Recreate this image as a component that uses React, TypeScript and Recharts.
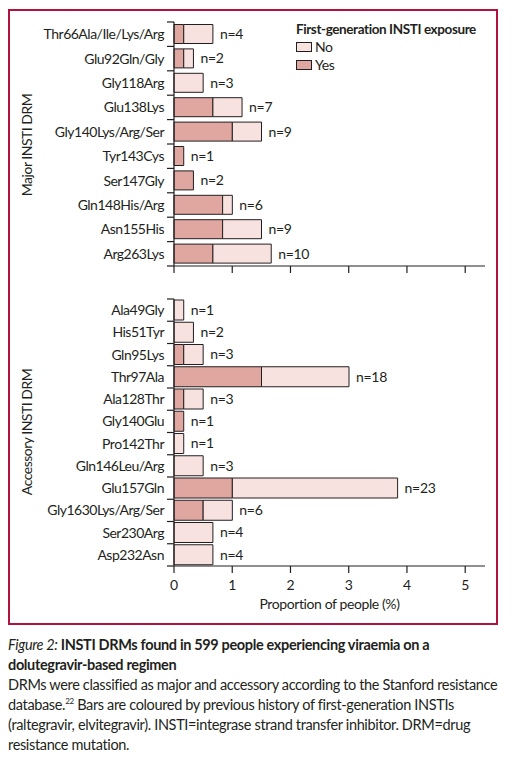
import {BarChart, Bar, XAxis, YAxis, Legend, LabelList, Label} from 'recharts'

// counts of people with each DRM, out of 599
const TOTAL = 599

const majorNames = ['Thr66Ala/Ile/Lys/Arg', 'Glu92Gln/Gly', 'Gly118Arg', 'Glu138Lys', 'Gly140Lys/Arg/Ser', 'Tyr143Cys', 'Ser147Gly', 'Gln148His/Arg', 'Asn155His', 'Arg263Lys']
const majorYes = [1, 1, 0, 4, 6, 1, 2, 5, 5, 4]
const majorNo = [3, 1, 3, 3, 3, 0, 0, 1, 4, 6]

const accNames = ['Ala49Gly', 'His51Tyr', 'Gln95Lys', 'Thr97Ala', 'Ala128Thr', 'Gly140Glu', 'Pro142Thr', 'Gln146Leu/Arg', 'Glu157Gln', 'Gly1630Lys/Arg/Ser', 'Ser230Arg', 'Asp232Asn']
const accYes = [0, 0, 1, 9, 1, 1, 0, 0, 6, 3, 0, 0]
const accNo = [1, 2, 2, 9, 2, 0, 1, 3, 17, 3, 4, 4]

const xTicks = [0, 1, 2, 3, 4, 5]
const legendLabels = ['No', 'Yes']

const FONT = "Lato, 'Liberation Sans', sans-serif"
const INK = '#231f20'
const YES = '#e0a6a0'
const NO = '#f8e2e0'
const FRAME = '#b0143e'
const TIGHT = '-0.5px'

const AXIS_X = 166

const buildRows = (names: string[], yes: number[], no: number[]) =>
    names.map((name, i) => ({
        name: name,
        yes: yes[i] / TOTAL * 100,
        no: no[i] / TOTAL * 100,
        n: yes[i] + no[i],
    }))

const CatTick = (props: any) => {
    const {y, payload, index, band, count} = props
    return (
        <g>
            <line x1={AXIS_X - 7} x2={AXIS_X} y1={y - band / 2} y2={y - band / 2} stroke={INK} strokeWidth={1.2}/>
            {index === count - 1 &&
                <line x1={AXIS_X - 7} x2={AXIS_X} y1={y + band / 2} y2={y + band / 2} stroke={INK} strokeWidth={1.2}/>}
            <text x={AXIS_X - 10} y={y} dy="0.35em" textAnchor="end" fill={INK} fontSize={14} fontFamily={FONT}
                  style={{letterSpacing: TIGHT}}>
                {payload.value}
            </text>
        </g>
    )
}

// n= label at the end of the stacked bar; the Yes series carries it only when there is no "No" part
const makeNLabel = (rows: any[], onYes: boolean) => (props: any) => {
    const {x, y, width, height, value} = props
    const row = rows.find(r => r.name === value)
    if (!row) return null
    if (onYes && row.no !== 0) return null
    if (!onYes && row.no === 0) return null
    return (
        <text x={x + width + 7} y={y + height / 2} dy="0.35em" fill={INK} fontSize={14} fontFamily={FONT}
              style={{letterSpacing: '-0.3px'}}>
            {'n=' + row.n}
        </text>
    )
}

const LegendBox = () => {
    const fills = [NO, YES]
    return (
        <div style={{fontFamily: FONT, color: INK, fontSize: 14, lineHeight: '18px', letterSpacing: '-0.4px'}}>
            <div style={{fontWeight: 'bold', whiteSpace: 'nowrap', fontSize: 13.5}}>First-generation INSTI exposure</div>
            {legendLabels.map((l, i) => (
                <div key={l} style={{display: 'flex', alignItems: 'center'}}>
                    <span style={{display: 'inline-block', width: 14, height: 8, background: fills[i], border: '1px solid ' + INK, marginRight: 3}}/>
                    <span>{l}</span>
                </div>
            ))}
        </div>
    )
}

type PanelProps = {
    rows: any[]
    height: number
    marginTop: number
    band: number
    gap: number
    xAxisHeight: number
    bottom: boolean
}

const Panel = (props: PanelProps) => {
    const {rows, height, marginTop, band, gap, xAxisHeight, bottom} = props
    return (
        <BarChart width={490} height={height} data={rows} layout="vertical"
                  margin={{top: marginTop, right: 13, left: 0, bottom: 0}} barCategoryGap={gap}>
            <XAxis type="number" domain={[0, 5.34]} ticks={xTicks} height={xAxisHeight}
                   axisLine={{stroke: INK, strokeWidth: 1.2}} tickLine={{stroke: INK, strokeWidth: 1.2}}
                   tickSize={7} tickMargin={7}
                   tick={{fill: INK, fontSize: 14, fontFamily: FONT}}
                   tickFormatter={(v: number) => bottom ? String(v) : ''}>
                {bottom && <Label value="Proportion of people (%)" position="insideBottom" offset={9}
                                  style={{fill: INK, fontSize: 14, fontFamily: FONT, letterSpacing: '-0.4px'}}/>}
            </XAxis>
            <YAxis type="category" dataKey="name" width={AXIS_X} interval={0}
                   axisLine={{stroke: INK, strokeWidth: 1.2}} tickLine={false}
                   tick={(p: any) => <CatTick {...p} band={band} count={rows.length}/>}/>
            {!bottom && <Legend layout="vertical" align="center" verticalAlign="middle"
                                wrapperStyle={{top: 12, left: 288, width: 200}} content={() => <LegendBox/>}/>}
            <Bar dataKey="yes" stackId="a" fill={YES} stroke={INK} strokeWidth={1} isAnimationActive={false}>
                <LabelList dataKey="name" content={makeNLabel(rows, true)}/>
            </Bar>
            <Bar dataKey="no" stackId="a" fill={NO} stroke={INK} strokeWidth={1} isAnimationActive={false}>
                <LabelList dataKey="name" content={makeNLabel(rows, false)}/>
            </Bar>
        </BarChart>
    )
}

const sideTitle = (text: string, top: number) => (
    <div style={{position: 'absolute', left: 18, top: top, width: 0, height: 0}}>
        <div style={{position: 'absolute', transform: 'translate(-50%, -50%) rotate(-90deg)', whiteSpace: 'nowrap',
            fontFamily: FONT, fontSize: 14, color: INK, letterSpacing: TIGHT}}>
            {text}
        </div>
    </div>
)

const App = () => {
    const majorRows = buildRows(majorNames, majorYes, majorNo)
    const accRows = buildRows(accNames, accYes, accNo)
    return (
        <div style={{position: 'relative', width: 496, height: 750}}>
            <div style={{position: 'absolute', left: 0, top: 1, width: 490, height: 616, border: '2px solid ' + FRAME, boxSizing: 'border-box'}}/>
            <div style={{position: 'absolute', left: 0, top: 0}}>
                <Panel rows={majorRows} height={272} marginTop={14} band={24.4} gap={2.5} xAxisHeight={14} bottom={false}/>
            </div>
            <div style={{position: 'absolute', left: 0, top: 280}}>
                <Panel rows={accRows} height={330} marginTop={11} band={22.25} gap={1} xAxisHeight={52} bottom={true}/>
            </div>
            {sideTitle('Major INSTI DRM', 137)}
            {sideTitle('Accessory INSTI DRM', 424)}
            <div style={{position: 'absolute', left: 0, top: 627, fontFamily: FONT, fontSize: 14.5, lineHeight: '20px', color: INK,
                whiteSpace: 'nowrap', letterSpacing: '-0.35px'}}>
                <div style={{fontWeight: 'bold'}}>
                    <span style={{fontStyle: 'italic', fontWeight: 'normal'}}>Figure 2:</span> INSTI DRMs found in 599 people experiencing viraemia on a<br/>
                    dolutegravir-based regimen
                </div>
                <div>
                    DRMs were classified as major and accessory according to the Stanford resistance<br/>
                    database.<sup style={{fontSize: 8, lineHeight: 0}}>22</sup> Bars are coloured by previous history of first-generation INSTIs<br/>
                    (raltegravir, elvitegravir). INSTI=integrase strand transfer inhibitor. DRM=drug<br/>
                    resistance mutation.
                </div>
            </div>
        </div>
    )
}

export default App
